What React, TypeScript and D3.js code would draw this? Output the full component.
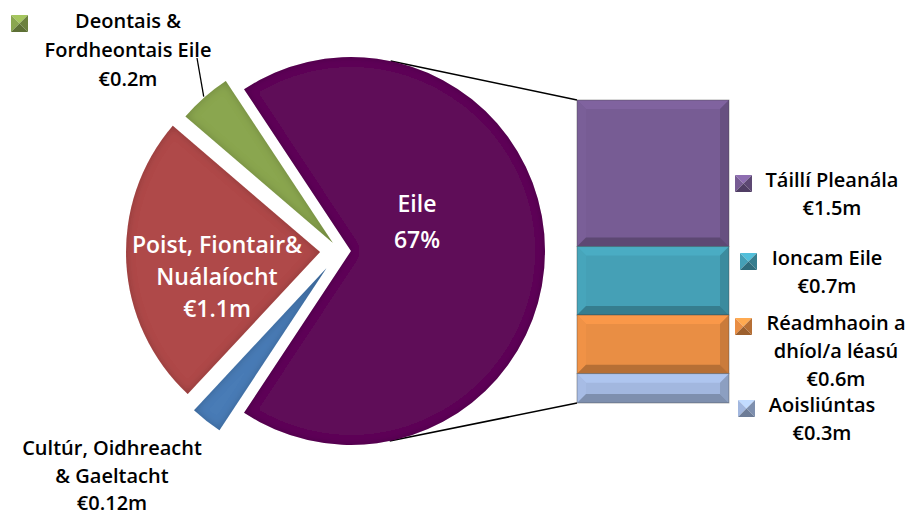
import React from "react";
import * as d3 from "d3";

// pie slices, clockwise from the "other" slice
const pieLabels = [
  ["Eile"],
  ["Cultúr, Oidhreacht", "& Gaeltacht"],
  ["Poist, Fiontair&", "Nuálaíocht"],
  ["Deontais &", "Fordheontais Eile"],
];
const pieOwnValues = [0, 0.12, 1.1, 0.2]; // first one is filled from the bar
const pieValueText = ["67%", "€0.12m", "€1.1m", "€0.2m"];
const pieColors = ["#5E1058", "#4A7CB6", "#AF4A48", "#8AA64F"];

// the "Eile" breakdown (stacked bar, top to bottom)
const barLabels = [["Táillí Pleanála"], ["Ioncam Eile"], ["Réadmhaoin a", "dhíol/a léasú"], ["Aoisliúntas"]];
const barValues = [1.5, 0.7, 0.6, 0.3];
const barColors = ["#775C94", "#45A0B6", "#E98E44", "#A2B7DF"];

const W = 911;
const H = 515;
const cx = 340;
const cy = 251;
const R = 194;
const explode = [11, 22, 20, 11];
const pieLabelPos = [
  { x: 417, y: 212, lh: 36, inside: true },
  { x: 112, y: 455, lh: 27.5, inside: false },
  { x: 217, y: 253, lh: 32, inside: true },
  { x: 128, y: 28, lh: 29, inside: false },
];
const markerPos = [null, null, null, { x: 11, y: 15 }];
const barLabelPos = [
  { x: 832, y: 187, mx: 735 },
  { x: 827, y: 265, mx: 740 },
  { x: 836, y: 330, mx: 735 },
  { x: 822, y: 412, mx: 738 },
];
const leaderEnd = { x: 197, y: 58 };

const barX0 = 577;
const barX1 = 729;
const barTop = 100;
const barBottom = 403;

const font = "'Open Sans', 'Noto Sans', sans-serif";

const Marker = ({ x, y, color, s = 17 }) => {
  const c = d3.color(color);
  const mx = x + s / 2;
  const my = y + s / 2;
  const tri = (pts) => pts.map((p) => p.join(",")).join(" ");
  return (
    <g>
      <polygon points={tri([[x, y], [x + s, y], [mx, my]])} fill={c.brighter(0.5).formatHex()} />
      <polygon points={tri([[x, y], [mx, my], [x, y + s]])} fill={c.formatHex()} />
      <polygon points={tri([[x + s, y], [x + s, y + s], [mx, my]])} fill={c.darker(0.7).formatHex()} />
      <polygon points={tri([[x, y + s], [x + s, y + s], [mx, my]])} fill={c.darker(1.1).formatHex()} />
    </g>
  );
};

const BevelRect = ({ x0, x1, y0, y1, color }) => {
  const c = d3.color(color);
  const b = Math.min(9, (y1 - y0) / 2);
  const pts = (p) => p.map((q) => q.join(",")).join(" ");
  return (
    <g>
      <rect x={x0} y={y0} width={x1 - x0} height={y1 - y0} fill={color} />
      <polygon points={pts([[x0, y0], [x1, y0], [x1 - b, y0 + b], [x0 + b, y0 + b]])} fill={c.brighter(0.2).formatHex()} />
      <polygon points={pts([[x0, y0], [x0 + b, y0 + b], [x0 + b, y1 - b], [x0, y1]])} fill={c.brighter(0.08).formatHex()} />
      <polygon points={pts([[x1, y0], [x1, y1], [x1 - b, y1 - b], [x1 - b, y0 + b]])} fill={c.darker(0.4).formatHex()} />
      <polygon points={pts([[x0, y1], [x1, y1], [x1 - b, y1 - b], [x0 + b, y1 - b]])} fill={c.darker(0.7).formatHex()} />
      <rect x={x0} y={y0} width={x1 - x0} height={y1 - y0} fill="none" stroke="#444" strokeOpacity={0.5} strokeWidth={0.8} />
    </g>
  );
};

export default function App() {
  const otherTotal = d3.sum(barValues);
  const pieValues = pieOwnValues.map((v, i) => (i === 0 ? otherTotal : v));
  const total = d3.sum(pieValues);
  const otherAngle = (2 * Math.PI * otherTotal) / total;
  const start = Math.PI / 2 - otherAngle / 2;

  const pie = d3
    .pie<number>()
    .sort(null)
    .value((d) => d)
    .startAngle(start)
    .endAngle(start + 2 * Math.PI);
  const arcs = pie(pieValues);
  const arc = d3.arc<any>().innerRadius(0).outerRadius(R);

  const offset = (a, i) => {
    const mid = (a.startAngle + a.endAngle) / 2;
    return [explode[i] * Math.sin(mid), -explode[i] * Math.cos(mid)];
  };

  // stacked bar
  const y = d3.scaleLinear().domain([0, otherTotal]).range([barBottom, barTop]);
  const cum = d3.cumsum(barValues);
  const segs = barValues.map((v, i) => ({
    y0: y(otherTotal - (cum[i] - v)),
    y1: y(otherTotal - cum[i]),
  }));

  // tangent connectors from bar corners to the exploded "Eile" slice
  const [ox, oy] = offset(arcs[0], 0);
  const pcx = cx + ox;
  const pcy = cy + oy;
  const tangent = (px, py, upper) => {
    const d = Math.hypot(px - pcx, py - pcy);
    const phi = Math.atan2(py - pcy, px - pcx);
    const al = Math.acos(R / d);
    const a = upper ? phi - al : phi + al;
    return [pcx + R * Math.cos(a), pcy + R * Math.sin(a)];
  };
  const tTop = tangent(barX0, barTop, true);
  const tBot = tangent(barX0, barBottom, false);

  // leader for the green slice
  const g = arcs[3];
  const gMid = (g.startAngle + g.endAngle) / 2;
  const [gx, gy] = offset(g, 3);
  const leaderStart = [cx + gx + (R + 1) * Math.sin(gMid), cy + gy - (R + 1) * Math.cos(gMid)];

  const fmt = (v) => `€${v}m`;

  return (
    <svg width={W} height={H} style={{ position: "absolute", left: 0, top: 0, background: "#fff" }} fontFamily={font} fontWeight={600}>
      <defs>
        <filter id="softEdge" x="-20%" y="-20%" width="140%" height="140%">
          <feFlood floodColor="#000" floodOpacity="0.4" result="c" />
          <feComposite in="c" in2="SourceAlpha" operator="out" result="outside" />
          <feGaussianBlur in="outside" stdDeviation="4" result="blur" />
          <feComposite in="blur" in2="SourceAlpha" operator="in" result="shadow" />
          <feMerge>
            <feMergeNode in="SourceGraphic" />
            <feMergeNode in="shadow" />
          </feMerge>
        </filter>
      </defs>

      <line x1={tTop[0]} y1={tTop[1]} x2={barX0} y2={barTop} stroke="#000" strokeWidth={1.5} />
      <line x1={tBot[0]} y1={tBot[1]} x2={barX0} y2={barBottom} stroke="#000" strokeWidth={1.5} />

      {arcs.map((a, i) => {
        const [dx, dy] = offset(a, i);
        return (
          <path
            key={i}
            d={arc(a)}
            transform={`translate(${cx + dx},${cy + dy})`}
            fill={pieColors[i]}
            filter="url(#softEdge)"
          />
        );
      })}

      {segs.map((s, i) => (
        <BevelRect key={i} x0={barX0} x1={barX1} y0={s.y0} y1={s.y1} color={barColors[i]} />
      ))}

      <line x1={leaderStart[0]} y1={leaderStart[1]} x2={leaderEnd.x} y2={leaderEnd.y} stroke="#000" strokeWidth={1.3} />

      {pieLabels.map((lines, i) => {
        const p = pieLabelPos[i];
        const all = [...lines, pieValueText[i]];
        return (
          <g key={i}>
            {markerPos[i] && <Marker x={markerPos[i].x} y={markerPos[i].y} color={pieColors[i]} />}
            <text
              textAnchor="middle"
              fontSize={p.inside ? 23 : 20}
              fill={p.inside ? "#fff" : "#000"}
            >
              {all.map((t, j) => (
                <tspan key={j} x={p.x} y={p.y + j * p.lh}>
                  {t}
                </tspan>
              ))}
            </text>
          </g>
        );
      })}

      {barLabels.map((lines, i) => {
        const p = barLabelPos[i];
        const all = [...lines, fmt(barValues[i])];
        return (
          <g key={i}>
            <Marker x={p.mx} y={p.y - 12} color={barColors[i]} />
            <text textAnchor="middle" fontSize={20} fill="#000">
              {all.map((t, j) => (
                <tspan key={j} x={p.x} y={p.y + j * 28}>
                  {t}
                </tspan>
              ))}
            </text>
          </g>
        );
      })}
    </svg>
  );
}
